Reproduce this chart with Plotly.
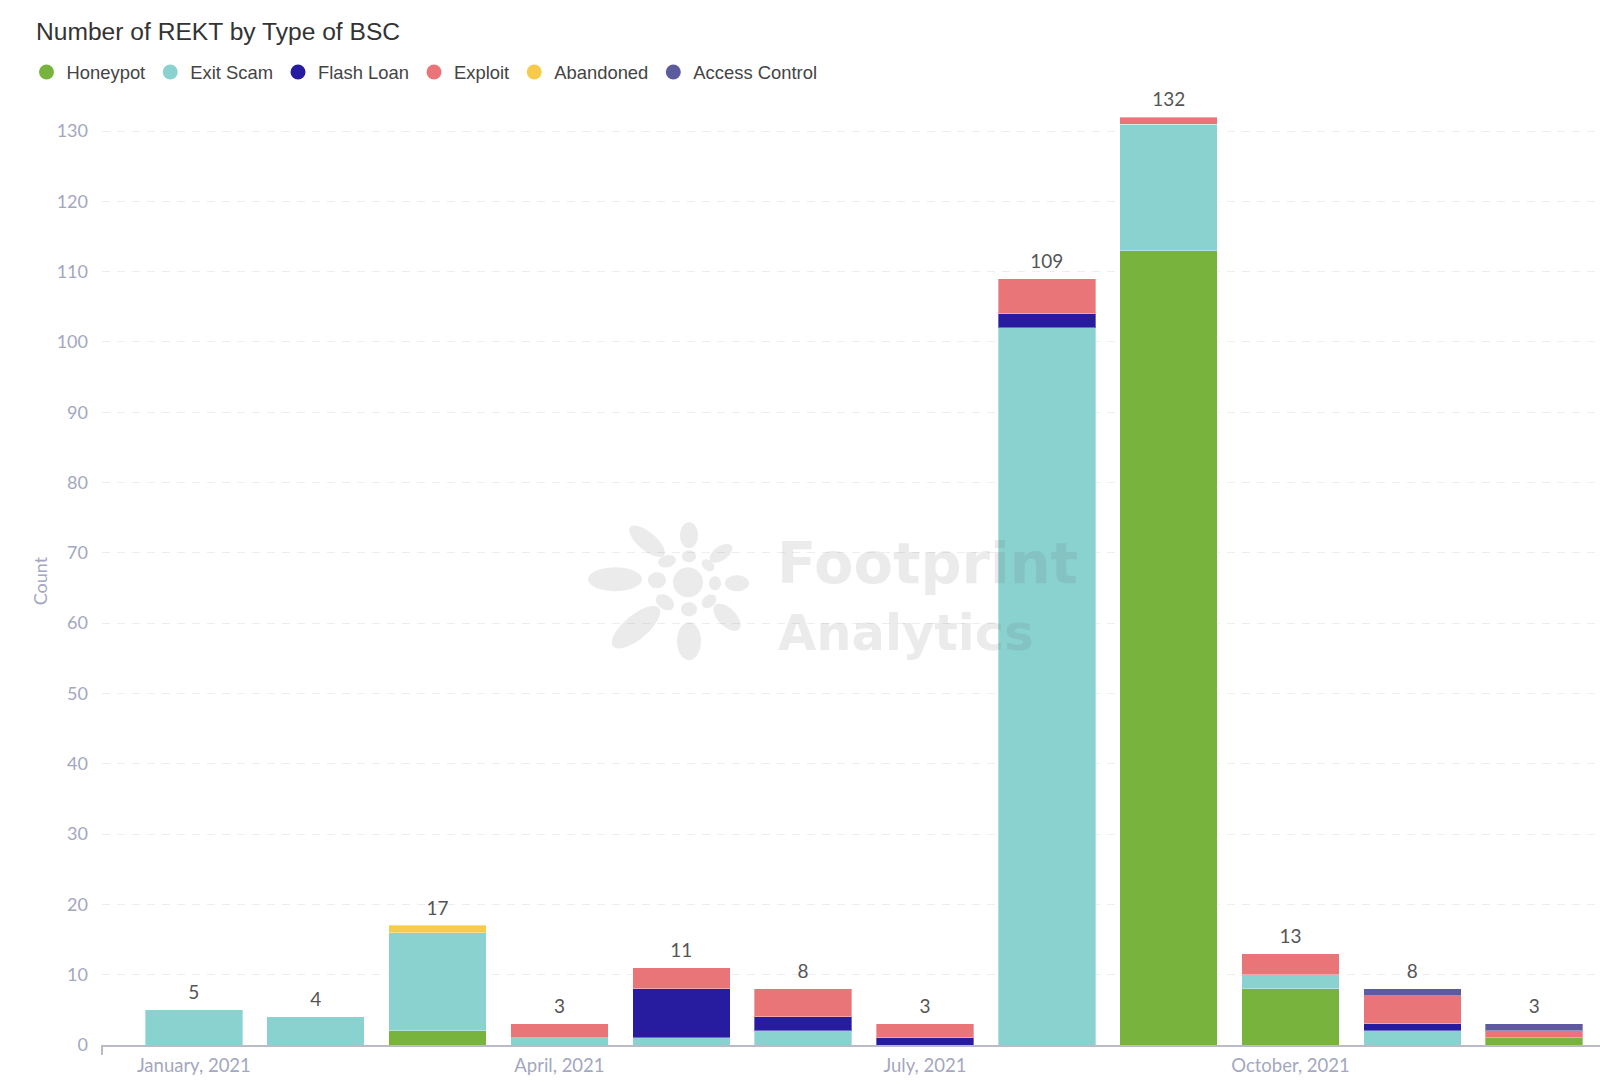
import numpy as np
import plotly.graph_objects as go

W, H = 1600, 1085
LEFT, TOP, BOTTOM = 102, 116.5, 1045

months = ["January, 2021", "February, 2021", "March, 2021", "April, 2021", "May, 2021", "June, 2021",
          "July, 2021", "August, 2021", "September, 2021", "October, 2021", "November, 2021", "December, 2021"]
tick_months = ["January, 2021", "April, 2021", "July, 2021", "October, 2021"]

honeypot = [0, 0, 2, 0, 0, 0, 0, 0, 113, 8, 0, 1]
exit_scam = [5, 4, 14, 1, 1, 2, 0, 102, 18, 2, 2, 0]
flash_loan = [0, 0, 0, 0, 7, 2, 1, 2, 0, 0, 1, 0]
exploit = [0, 0, 0, 2, 3, 4, 2, 5, 1, 3, 4, 1]
abandoned = [0, 0, 1, 0, 0, 0, 0, 0, 0, 0, 0, 0]
access_control = [0, 0, 0, 0, 0, 0, 0, 0, 0, 0, 1, 1]
totals = [5, 4, 17, 3, 11, 8, 3, 109, 132, 13, 8, 3]

series = [("Honeypot", honeypot, "#78b43d"),
          ("Exit Scam", exit_scam, "#89d2d0"),
          ("Flash Loan", flash_loan, "#271ca0"),
          ("Exploit", exploit, "#ea7579"),
          ("Abandoned", abandoned, "#f6cb49"),
          ("Access Control", access_control, "#5c5b9d")]

y_ticks = list(range(0, 131, 10))

# watermark logo petals, in pixels of the page: cx, cy, rx, ry, angle
logo_petals = [(688, 582, 15, 15, 0), (689, 535, 9, 13, 0), (647, 541, 22, 9, 40), (721, 553, 13, 7, -35),
               (615, 579, 27, 12, 0), (737, 583, 12, 8, 0), (636, 627, 30, 12, -40), (689, 641, 12, 19, 0),
               (727, 617, 17, 9, 45), (689, 556, 7, 6, 0), (667, 561, 9, 6, -15), (708, 565, 7, 5, 40),
               (657, 580, 9, 8, 0), (715, 583, 6, 7, 0), (665, 602, 10, 7, 35), (709, 601, 8, 6, -40),
               (689, 609, 8, 7, 0)]
WATERMARK = "rgba(100,100,100,0.13)"


# page pixels to the plot area's paper coordinates
def px(x):
    return (x - LEFT) / (W - LEFT)


def py(y):
    return (BOTTOM - y) / (BOTTOM - TOP)


def petal_path(cx, cy, rx, ry, angle):
    a = np.radians(angle)
    t = np.linspace(0, 2 * np.pi, 32)
    xs = cx + rx * np.cos(t) * np.cos(a) - ry * np.sin(t) * np.sin(a)
    ys = cy + rx * np.cos(t) * np.sin(a) + ry * np.sin(t) * np.cos(a)
    pts = [f"{px(x):.5f},{py(y):.5f}" for x, y in zip(xs, ys)]
    return "M" + " L".join(pts) + " Z"


fig = go.Figure()

for name, values, color in series:
    fig.add_trace(go.Bar(x=months, y=[v or None for v in values], name=name, legendgroup=name, showlegend=False,
                         marker=dict(color=color, line=dict(color="rgba(255,255,255,0.35)", width=1))))
    # round swatch for the legend
    fig.add_trace(go.Scatter(x=[None], y=[None], mode="markers", name=name, legendgroup=name,
                             marker=dict(color=color, size=15, symbol="circle")))

# the clear marker only lifts the total off the bar
fig.add_trace(go.Scatter(x=months, y=totals, mode="markers+text", text=totals, textposition="top center",
                         marker=dict(size=8, color="rgba(0,0,0,0)"),
                         textfont=dict(family="Lato", size=19, color="#555555"), showlegend=False,
                         cliponaxis=False, hoverinfo="skip"))

shapes = [dict(type="path", xref="paper", yref="paper", path=petal_path(*p), fillcolor=WATERMARK,
               line=dict(width=0), layer="above") for p in logo_petals]
shapes.append(dict(type="line", xref="paper", yref="paper", x0=px(102), x1=px(102), y0=py(1045), y1=py(1055),
                   line=dict(color="#b9bbc9", width=2)))

annotations = [dict(text="<b>Footprint</b>", xref="paper", yref="paper", x=px(775), y=py(563), xanchor="left",
                    yanchor="middle", showarrow=False, font=dict(family="DejaVu Sans", size=57.5, color=WATERMARK)),
               dict(text="<b>Analytics</b>", xref="paper", yref="paper", x=px(776), y=py(633), xanchor="left",
                    yanchor="middle", showarrow=False, font=dict(family="DejaVu Sans", size=49.5, color=WATERMARK))]

fig.update_layout(width=W, height=H, barmode="stack", bargap=0.2, plot_bgcolor="white", paper_bgcolor="white",
                  margin=dict(l=LEFT, r=0, t=TOP, b=H - BOTTOM, autoexpand=False),
                  font=dict(family="Lato", color="#a3a7bf"),
                  title=dict(text="Number of REKT by Type of BSC", x=36 / W, xanchor="left", y=1 - 31 / H, yanchor="middle",
                             font=dict(family="Liberation Sans", size=24.6, color="#333333")),
                  legend=dict(orientation="h", xref="container", yref="container", x=26.5 / W, y=1 - 72 / H,
                              xanchor="left", yanchor="middle",
                              font=dict(family="Liberation Sans", size=18.4, color="#444444"), itemwidth=30),
                  shapes=shapes, annotations=annotations)

fig.update_xaxes(type="category", categoryorder="array", categoryarray=months, range=[-0.754, 11.54],
                 tickmode="array", tickvals=tick_months, ticktext=tick_months, showgrid=False,
                 showline=True, linecolor="#b9bbc9", linewidth=2, ticks="", tickfont=dict(family="Lato", size=18.5, color="#a3a7bf"),
                 ticklabelstandoff=3)
fig.update_yaxes(range=[0, 132], tickvals=y_ticks, showgrid=True, gridcolor="#eeeeee", griddash="8px,7px", gridwidth=1,
                 zeroline=False, showline=False, tickfont=dict(family="Lato", size=18, color="#a3a7bf"),
                 ticklabelstandoff=13, title=dict(text="Count", font=dict(family="Lato", size=18, color="#a3a7bf"), standoff=4))

fig.write_html("out.html", config=dict(displayModeBar=False), post_script="document.body.style.margin='0';")
